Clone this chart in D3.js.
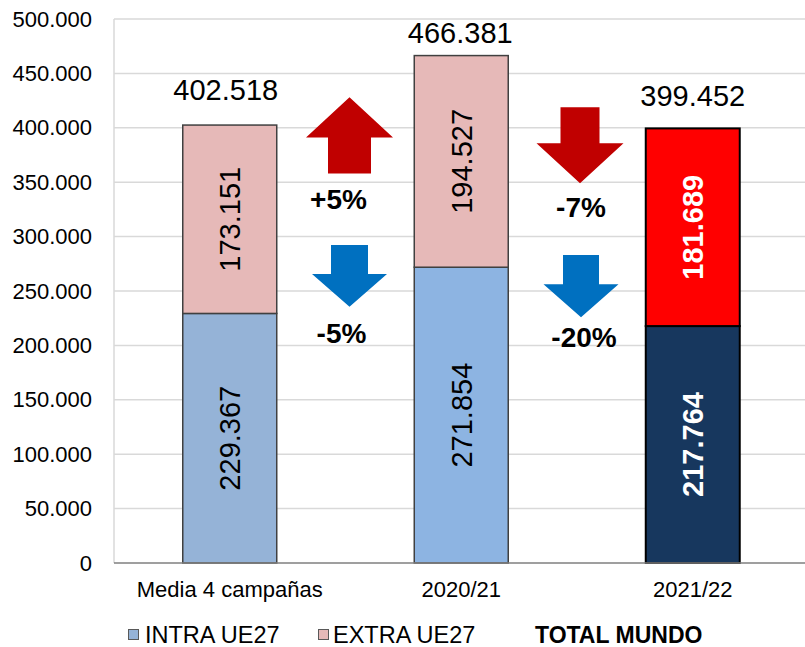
<!DOCTYPE html>
<html><head><meta charset="utf-8">
<script src="https://cdn.jsdelivr.net/npm/d3@7"></script>
<style>body{margin:0;background:#fff}svg{display:block;font-family:"Liberation Sans",Arial,sans-serif}</style>
</head><body>
<svg id="c" width="805" height="647"></svg>
<script>
const categories = ["Media 4 campañas", "2020/21", "2021/22"];
const intraUE27 = [229367, 271854, 217764];
const extraUE27 = [173151, 194527, 181689];
const totalMundo = [402518, 466381, 399452];
const yTickValues = [0, 50000, 100000, 150000, 200000, 250000, 300000, 350000, 400000, 450000, 500000];
const extraChange = ["+5%", "-7%"];
const intraChange = ["-5%", "-20%"];
const legendLabels = ["INTRA UE27", "EXTRA UE27", "TOTAL MUNDO"];

// styles / layout
const intraColors = ["#95B3D7", "#8DB4E2", "#17375E"];
const extraColors = ["#E6B9B8", "#E6B9B8", "#FF0000"];
const strokeColors = ["#404040", "#404040", "#000000"];
const labelColors = ["#000", "#000", "#fff"];
const labelWeights = ["normal", "normal", "bold"];
const totalOffsets = [25, 13, 22];
const totalDx = [-4, -1, 0];

const svg = d3.select("#c");
const loc = d3.formatLocale({decimal: ",", thousands: ".", grouping: [3], currency: ["", "€"]});
const fmt = loc.format(",");

const x = d3.scaleBand().domain(categories).range([114, 808.5]).paddingInner(0.594).paddingOuter(0.297);
const y = d3.scaleLinear().domain([0, 500000]).range([563, 19]);

// gridlines
svg.append("g").selectAll("line").data(yTickValues.filter(d => d > 0)).join("line")
  .attr("x1", 114).attr("x2", 805).attr("y1", d => y(d)).attr("y2", d => y(d))
  .attr("stroke", "#D9D9D9").attr("stroke-width", 1.5);
svg.append("line").attr("x1", 114).attr("x2", 114).attr("y1", y(500000)).attr("y2", y(0))
  .attr("stroke", "#D9D9D9").attr("stroke-width", 1.5);

// y axis labels
const yAxis = d3.axisLeft(y).tickValues(yTickValues).tickFormat(fmt).tickSize(0).tickPadding(22);
const ya = svg.append("g").attr("transform", "translate(114,0)").call(yAxis);
ya.select(".domain").remove();
ya.selectAll("text").attr("font-size", 22).attr("fill", "#000").attr("font-family", "Liberation Sans, Arial, sans-serif");

// bars
const idx = d3.range(categories.length);
const bars = svg.append("g");
bars.selectAll("rect.intra").data(idx).join("rect").attr("class", "intra")
  .attr("x", i => x(categories[i])).attr("width", x.bandwidth())
  .attr("y", i => y(intraUE27[i])).attr("height", i => y(0) - y(intraUE27[i]))
  .attr("fill", i => intraColors[i]).attr("stroke", i => strokeColors[i]).attr("stroke-width", i => i === 2 ? 2 : 1.5);
bars.selectAll("rect.extra").data(idx).join("rect").attr("class", "extra")
  .attr("x", i => x(categories[i])).attr("width", x.bandwidth())
  .attr("y", i => y(intraUE27[i] + extraUE27[i])).attr("height", i => y(intraUE27[i]) - y(intraUE27[i] + extraUE27[i]))
  .attr("fill", i => extraColors[i]).attr("stroke", i => strokeColors[i]).attr("stroke-width", i => i === 2 ? 2 : 1.5);

// x axis line
svg.append("line").attr("x1", 114).attr("x2", 805).attr("y1", y(0)).attr("y2", y(0))
  .attr("stroke", "#7F7F7F").attr("stroke-width", 1.5);

// category labels
svg.append("g").selectAll("text").data(categories).join("text")
  .attr("x", d => x(d) + x.bandwidth() / 2).attr("y", 597)
  .attr("text-anchor", "middle").attr("font-size", 22).attr("fill", "#000").text(d => d);

// segment labels
function segLabel(vals, base) {
  svg.append("g").selectAll("text").data(idx).join("text")
    .attr("transform", i => {
      const cx = x(categories[i]) + x.bandwidth() / 2;
      const cy = (y(base[i]) + y(base[i] + vals[i])) / 2;
      return `translate(${cx},${cy}) rotate(-90)`;
    })
    .attr("text-anchor", "middle").attr("dy", "0.36em")
    .attr("font-size", 29).attr("font-weight", i => labelWeights[i]).attr("fill", i => labelColors[i])
    .text(i => fmt(vals[i]));
}
segLabel(intraUE27, [0, 0, 0]);
segLabel(extraUE27, intraUE27);

// totals
svg.append("g").selectAll("text").data(idx).join("text")
  .attr("x", i => x(categories[i]) + x.bandwidth() / 2 + totalDx[i])
  .attr("y", i => y(totalMundo[i]) - totalOffsets[i])
  .attr("text-anchor", "middle").attr("font-size", 29).attr("fill", "#000")
  .text(i => fmt(totalMundo[i]));

// change arrows (value-based annotation geometry)
const arrows = [
  {gap: 0, dir: "up",   color: "#C00000", a: 428000, b: 391000, c: 358000, head: 87, shaft: 43, dx: 4},
  {gap: 0, dir: "down", color: "#0070C0", a: 292300, b: 265600, c: 235600, head: 75, shaft: 37, dx: 4},
  {gap: 1, dir: "down", color: "#C00000", a: 418800, b: 385700, c: 349000, head: 87, shaft: 39, dx: 3},
  {gap: 1, dir: "down", color: "#0070C0", a: 283100, b: 256200, c: 225800, head: 75, shaft: 36, dx: 4}
];
const gapX = g => (x(categories[g]) + x(categories[g + 1]) + x.bandwidth()) / 2;
arrows.forEach(ar => {
  const cx = gapX(ar.gap) + ar.dx;
  const ya_ = y(ar.a), yb = y(ar.b), yc = y(ar.c);
  const h = ar.head / 2, s = ar.shaft / 2;
  let pts;
  if (ar.dir === "up") {
    pts = [[cx, ya_], [cx + h, yb], [cx + s, yb], [cx + s, yc], [cx - s, yc], [cx - s, yb], [cx - h, yb]];
  } else {
    pts = [[cx - s, ya_], [cx + s, ya_], [cx + s, yb], [cx + h, yb], [cx, yc], [cx - h, yb], [cx - s, yb]];
  }
  svg.append("polygon").attr("points", pts.map(p => p.join(",")).join(" ")).attr("fill", ar.color);
});

const changeLabelPos = [
  {text: extraChange[0], gap: 0, v: 325400, dx: -7},
  {text: intraChange[0], gap: 0, v: 202200, dx: -4},
  {text: extraChange[1], gap: 1, v: 318300, dx: 4},
  {text: intraChange[1], gap: 1, v: 198500, dx: 7}
];
svg.append("g").selectAll("text").data(changeLabelPos).join("text")
  .attr("x", d => gapX(d.gap) + d.dx).attr("y", d => y(d.v))
  .attr("text-anchor", "middle").attr("font-size", 28).attr("font-weight", "bold").attr("fill", "#000")
  .text(d => d.text);

// legend
const leg = svg.append("g");
leg.append("rect").attr("x", 128.5).attr("y", 629.5).attr("width", 10).attr("height", 10)
  .attr("fill", intraColors[0]).attr("stroke", "#595959").attr("stroke-width", 1);
leg.append("text").attr("x", 145).attr("y", 643).attr("font-size", 23.5).attr("fill", "#000").text(legendLabels[0]);
leg.append("rect").attr("x", 318.5).attr("y", 629.5).attr("width", 10).attr("height", 10)
  .attr("fill", extraColors[0]).attr("stroke", "#595959").attr("stroke-width", 1);
leg.append("text").attr("x", 333).attr("y", 643).attr("font-size", 23.5).attr("fill", "#000").text(legendLabels[1]);
leg.append("text").attr("x", 535).attr("y", 643).attr("font-size", 23).attr("font-weight", "bold").attr("fill", "#000").text(legendLabels[2]);
</script>
</body></html>
